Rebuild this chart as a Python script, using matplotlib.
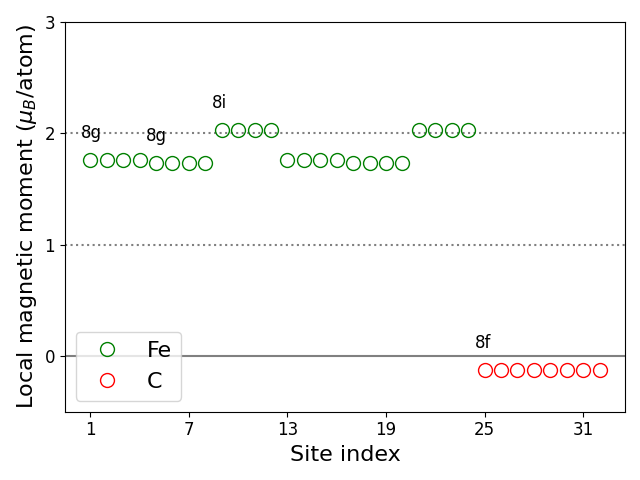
import numpy as np
import matplotlib
matplotlib.use('Agg')
import matplotlib.pyplot as plt

# site indices and local moments
fe_sites = np.arange(1, 25)
fe_moments = [1.76, 1.76, 1.76, 1.76, 1.73, 1.73, 1.73, 1.73,
              2.03, 2.03, 2.03, 2.03, 1.76, 1.76, 1.76, 1.76,
              1.73, 1.73, 1.73, 1.73, 2.03, 2.03, 2.03, 2.03]
c_sites = np.arange(25, 33)
c_moments = [-0.125] * 8

# Wyckoff labels: (text, first site)
wyckoff = [('8g', 1), ('8g', 5), ('8i', 9), ('8f', 25)]

fig, ax = plt.subplots(figsize=(6.4, 4.8), dpi=100)
ax.axhline(0, color='grey', lw=1.5)
ax.axhline(1, color='grey', ls=':', lw=1.5)
ax.axhline(2, color='grey', ls=':', lw=1.5)

ax.plot(fe_sites, fe_moments, 'o', mfc='none', mec='green', ms=10, label='Fe')
ax.plot(c_sites, c_moments, 'o', mfc='none', mec='red', ms=10, label='C')

allm = dict(zip(fe_sites, fe_moments))
allm.update(zip(c_sites, c_moments))
for txt, s in wyckoff:
    ax.text(s - 0.6, allm[s] + 0.2, txt, fontsize=12)

ax.set_ylim(-0.5, 3)
ax.set_xticks([1, 7, 13, 19, 25, 31])
ax.set_yticks([0, 1, 2, 3])
ax.tick_params(labelsize=12)
ax.set_xlabel('Site index', fontsize=16)
ax.set_ylabel(r'Local magnetic moment ($\mu_B$/atom)', fontsize=16)
ax.legend(fontsize=16, loc='lower left')
fig.tight_layout()
fig.savefig('out.png')
